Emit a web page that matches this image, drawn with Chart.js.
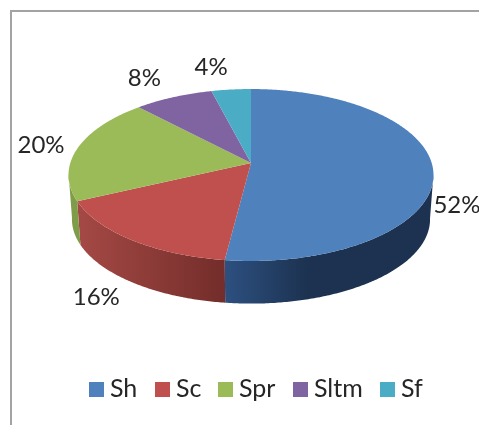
<!DOCTYPE html>
<html>
<head>
<meta charset="utf-8">
<script src="https://cdn.jsdelivr.net/npm/chart.js@4"></script>
<style>
  html, body { margin: 0; padding: 0; background: #fff; overflow: hidden; }
  #frame { position: absolute; left: 10px; top: 10px; width: 469px; height: 415px;
           border-left: 2.5px solid #a3a3a3; border-top: 2.5px solid #a3a3a3; box-sizing: border-box; }
  #pie { position: absolute; left: 0; top: 0; filter: blur(0.5px); }
</style>
</head>
<body>
<div id="frame"></div>
<canvas id="pie" width="479" height="425"></canvas>
<script>
const categories = ['Sh', 'Sc', 'Spr', 'Sltm', 'Sf'];
const shares = [52, 16, 20, 8, 4];

const faceColors = ['#4f81bd', '#c0504d', '#9bbb59', '#8064a2', '#4bacc6'];
// left and right end of the side wall gradient
const wallColors = [
    ['#2d5080', '#1c3250'],
    ['#a54945', '#732d2a'],
    ['#7f9c48', '#7f9c48'],
    ['#604a7b', '#604a7b'],
    ['#31859c', '#31859c'],
];
const labelNudge = [[24, 37], [-35, 57], [-37, -2], [-29, -19], [-20, -22]];
const legendBoxX = [89, 155, 218, 293, 380];

// perspective of the tilted disc, apex of the slices is not the ellipse centre
const APEX_X = 251, APEX_Y = 163;
const TILT = -0.1395;
const top_rim = {y0: APEX_Y, rx: 180.7, ry: 84.3};
const low_rim = {y0: 207.5, rx: 177.3, ry: 82.7};

function project(a, rim) {
    let u = Math.cos(a), v = Math.sin(a);
    let d = 1 + TILT * v;
    return {x: APEX_X + rim.rx * u / d, y: rim.y0 + rim.ry * v / d};
}

function samples(start, end) {
    let out = [];
    let n = Math.max(2, Math.ceil((end - start) / 0.01));
    for (let i = 0; i <= n; i++) {
        out.push(start + (end - start) * i / n);
    }
    return out;
}

function draw_wall(ctx, arc, colors, i) {
    // only the part that faces the viewer
    let angles = samples(arc.startAngle, arc.endAngle).filter((a) => Math.sin(a) > 0.12);
    if (angles.length < 2) return;
    let tops = angles.map((a) => project(a, top_rim));
    let lows = angles.map((a) => project(a, low_rim)).reverse();
    let xs = tops.concat(lows).map((p) => p.x);
    let left = Math.min(...xs), right = Math.max(...xs);
    let grad = ctx.createLinearGradient(left, 0, right, 0);
    grad.addColorStop(0, colors[0]);
    // the big slice reaches its dark tone early
    if (i == 0) grad.addColorStop(0.4, colors[1]);
    grad.addColorStop(1, colors[1]);
    ctx.beginPath();
    tops.concat(lows).forEach((p, k) => k ? ctx.lineTo(p.x, p.y) : ctx.moveTo(p.x, p.y));
    ctx.closePath();
    ctx.fillStyle = grad;
    ctx.fill();
}

function draw_face(ctx, arc, color) {
    ctx.beginPath();
    ctx.moveTo(APEX_X, APEX_Y);
    samples(arc.startAngle, arc.endAngle).forEach((a) => {
        let p = project(a, top_rim);
        ctx.lineTo(p.x, p.y);
    });
    ctx.closePath();
    ctx.fillStyle = color;
    ctx.fill();
}

function draw_legend(ctx) {
    ctx.font = '25px Lato';
    ctx.textAlign = 'left';
    ctx.textBaseline = 'middle';
    categories.forEach((name, i) => {
        ctx.fillStyle = faceColors[i];
        ctx.fillRect(legendBoxX[i], 382, 15, 15);
        ctx.fillStyle = '#262626';
        ctx.fillText(name, legendBoxX[i] + 21, 389);
    });
}

const disc3d = {
    id: 'disc3d',
    beforeDatasetDraw(chart, args) {
        let ctx = chart.ctx;
        let arcs = chart.getDatasetMeta(args.index).data;
        ctx.save();
        arcs.forEach((arc, i) => draw_wall(ctx, arc, wallColors[i], i));
        arcs.forEach((arc, i) => draw_face(ctx, arc, faceColors[i]));

        ctx.font = '24px Lato';
        ctx.textAlign = 'center';
        ctx.textBaseline = 'middle';
        ctx.fillStyle = '#262626';
        arcs.forEach((arc, i) => {
            let p = project((arc.startAngle + arc.endAngle) / 2, top_rim);
            ctx.fillText(shares[i] + '%', p.x + labelNudge[i][0], p.y + labelNudge[i][1]);
        });
        draw_legend(ctx);
        ctx.restore();
        return false;
    }
};

new Chart(document.getElementById('pie').getContext('2d'), {
    type: 'pie',
    data: {
        labels: categories,
        datasets: [{data: shares, backgroundColor: faceColors, borderWidth: 0}]
    },
    options: {
        responsive: false,
        animation: false,
        plugins: {legend: {display: false}, tooltip: {enabled: false}},
    },
    plugins: [disc3d]
});
</script>
</body>
</html>
